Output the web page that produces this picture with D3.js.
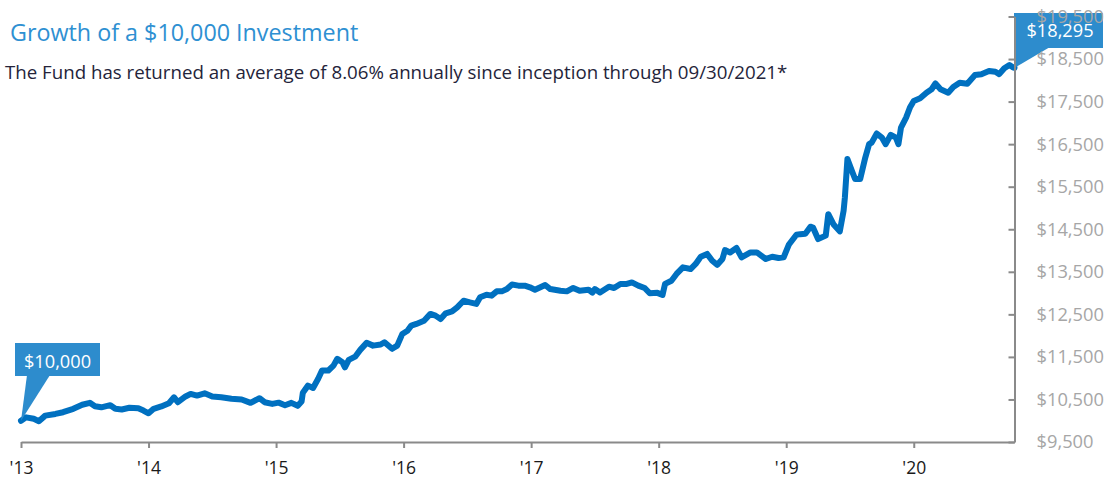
<!DOCTYPE html>
<html>
<head>
<meta charset="utf-8">
<script src="https://cdn.jsdelivr.net/npm/d3@7"></script>
<style>
body{margin:0;background:#fff}
svg{display:block}
</style>
</head>
<body>
<div id="chart"></div>
<script>
// Data (decimal year, value in $)
let years=[2013.00,2013.04,2013.10,2013.14,2013.19,2013.27,2013.33,2013.41,2013.48,2013.54,2013.58,2013.63,2013.70,2013.74,2013.79,2013.85,2013.92,2013.96,
2014.00,2014.04,2014.10,2014.16,2014.20,2014.23,2014.29,2014.33,2014.38,2014.44,2014.50,2014.57,2014.65,2014.73,2014.80,2014.87,2014.91,2014.97,
2015.02,2015.07,2015.12,2015.17,2015.20,2015.21,2015.25,2015.29,2015.33,2015.36,2015.41,2015.45,2015.48,2015.52,2015.54,2015.57,2015.62,2015.66,2015.71,2015.76,2015.82,2015.85,2015.91,2015.95,2015.99,
2016.03,2016.06,2016.10,2016.16,2016.21,2016.25,2016.29,2016.33,2016.38,2016.42,2016.47,2016.52,2016.57,2016.60,2016.65,2016.69,2016.73,2016.77,2016.81,2016.85,2016.90,2016.95,2016.99,
2017.03,2017.11,2017.15,2017.23,2017.28,2017.33,2017.38,2017.45,2017.48,2017.50,2017.54,2017.61,2017.65,2017.70,2017.75,2017.79,2017.84,2017.89,2017.93,2017.99,
2018.03,2018.05,2018.10,2018.14,2018.19,2018.25,2018.29,2018.33,2018.38,2018.42,2018.46,2018.50,2018.52,2018.56,2018.61,2018.65,2018.72,2018.77,2018.84,2018.89,2018.94,2018.98,
2019.02,2019.08,2019.11,2019.15,2019.19,2019.21,2019.25,2019.31,2019.33,2019.37,2019.42,2019.45,2019.46,2019.48,2019.52,2019.54,2019.58,2019.62,2019.65,2019.67,2019.71,2019.75,2019.78,2019.82,2019.86,2019.88,2019.90,2019.94,2019.97,
2020.00,2020.05,2020.10,2020.14,2020.17,2020.21,2020.27,2020.31,2020.36,2020.42,2020.48,2020.53,2020.59,2020.64,2020.67,2020.71,2020.75,2020.78,2020.79]
let values=[10000,10080,10045,9990,10120,10160,10200,10280,10375,10420,10340,10315,10365,10280,10265,10305,10295,10240,
10175,10280,10335,10410,10550,10435,10570,10630,10590,10645,10570,10550,10515,10500,10420,10530,10435,10395,
10425,10365,10420,10350,10450,10660,10825,10770,10985,11180,11180,11295,11455,11375,11255,11430,11505,11665,11830,11765,11790,11845,11690,11765,12040,
12115,12235,12275,12350,12510,12470,12390,12525,12570,12665,12820,12780,12745,12900,12960,12940,13040,13040,13095,13200,13175,13175,13135,
13080,13190,13095,13055,13040,13120,13055,13080,13010,13095,13015,13150,13120,13215,13215,13250,13175,13120,12995,13005,
12955,13215,13290,13450,13605,13565,13685,13855,13920,13760,13665,13800,14010,13955,14060,13840,13955,13955,13800,13855,13825,13840,
14135,14370,14385,14395,14560,14540,14270,14350,14855,14620,14450,14935,15245,16150,15835,15680,15680,16185,16500,16535,16750,16655,16500,16720,16655,16500,16890,17125,17360,
17515,17580,17710,17790,17925,17790,17710,17845,17945,17920,18125,18145,18220,18200,18145,18285,18360,18300,18295]
let xTicks=[2013,2014,2015,2016,2017,2018,2019,2020]
let yTicks=[9500,10500,11500,12500,13500,14500,15500,16500,17500,18500,19500]
let titleText="Growth of a $10,000 Investment"
let subtitleText="The Fund has returned an average of 8.06% annually since inception through 09/30/2021*"

let svgWidth=1107
let svgHeight=479
let font="'Open Sans', sans-serif"

let data=years.map((y,i)=>({year:y,value:values[i]}))

//SVG Wrapper
let svg=d3.select("#chart")
.append("svg")
.attr("width",svgWidth)
.attr("height",svgHeight)

//Scale Functions
let xScale=d3.scaleLinear()
.domain([2013,d3.max(years)])
.range([21,1014.5])
let yScale=d3.scaleLinear()
.domain([9500,19500])
.range([442,16.5])

//Title
svg.append("text")
.attr("x",10)
.attr("y",41)
.attr("font-family",font)
.attr("font-size",23.3)
.attr("fill","#2e90d2")
.text(titleText)
svg.append("text")
.attr("x",5)
.attr("y",78.5)
.attr("font-family",font)
.attr("font-size",18.7)
.attr("fill","#24243a")
.text(subtitleText)

//Line
let line=d3.line()
.x(d=>xScale(d.year))
.y(d=>yScale(d.value))
svg.append("path")
.datum(data)
.attr("d",line)
.attr("fill","none")
.attr("stroke","#0070c0")
.attr("stroke-width",6)
.attr("stroke-linejoin","round")
.attr("stroke-linecap","round")

//Callouts
let first=data[0]
let last=data[data.length-1]
let boxColor="#2d8ccd"
let startTip=[xScale(first.year),yScale(first.value)]
let endTip=[xScale(last.year),yScale(last.value)]
svg.append("rect").attr("x",15).attr("y",343).attr("width",85).attr("height",33).attr("fill",boxColor)
svg.append("path").attr("d",`M27,375L50,375L${startTip[0]},${startTip[1]}Z`).attr("fill",boxColor)
svg.append("rect").attr("x",1014).attr("y",13).attr("width",89).attr("height",35).attr("fill",boxColor)
svg.append("path").attr("d",`M1015,47L1050,47L${endTip[0]},${endTip[1]}Z`).attr("fill",boxColor)

//Axes
let xAxis=d3.axisBottom(xScale)
.tickValues(xTicks)
.tickSize(6)
.tickSizeOuter(0)
.tickPadding(14)
.tickFormat(d=>"'"+String(d).slice(2))
let gx=svg.append("g")
.attr("transform","translate(0,442)")
.call(xAxis)
gx.selectAll("text").attr("font-family",font).attr("font-size",17.5).attr("fill","#1a1a1a")

let yAxis=d3.axisRight(yScale)
.tickValues(yTicks)
.tickSizeInner(-6)
.tickSizeOuter(0)
.tickPadding(22)
.tickFormat(d=>"$"+d3.format(",")(d))
let gy=svg.append("g")
.attr("transform","translate(1014.5,0)")
.call(yAxis)
gy.selectAll("text").attr("font-family",font).attr("font-size",18.3).attr("fill","#a6a6a6")

svg.selectAll(".domain, .tick line").attr("stroke","#8a8a8a").attr("stroke-width",2)

//Callout labels
svg.append("text").attr("x",57.5).attr("y",368).attr("text-anchor","middle")
.attr("font-family",font).attr("font-size",18.2).attr("fill","#fff").text("$"+d3.format(",")(first.value))
svg.append("text").attr("x",1060).attr("y",37).attr("text-anchor","middle")
.attr("font-family",font).attr("font-size",18.2).attr("fill","#fff").text("$"+d3.format(",")(last.value))
</script>
</body>
</html>
